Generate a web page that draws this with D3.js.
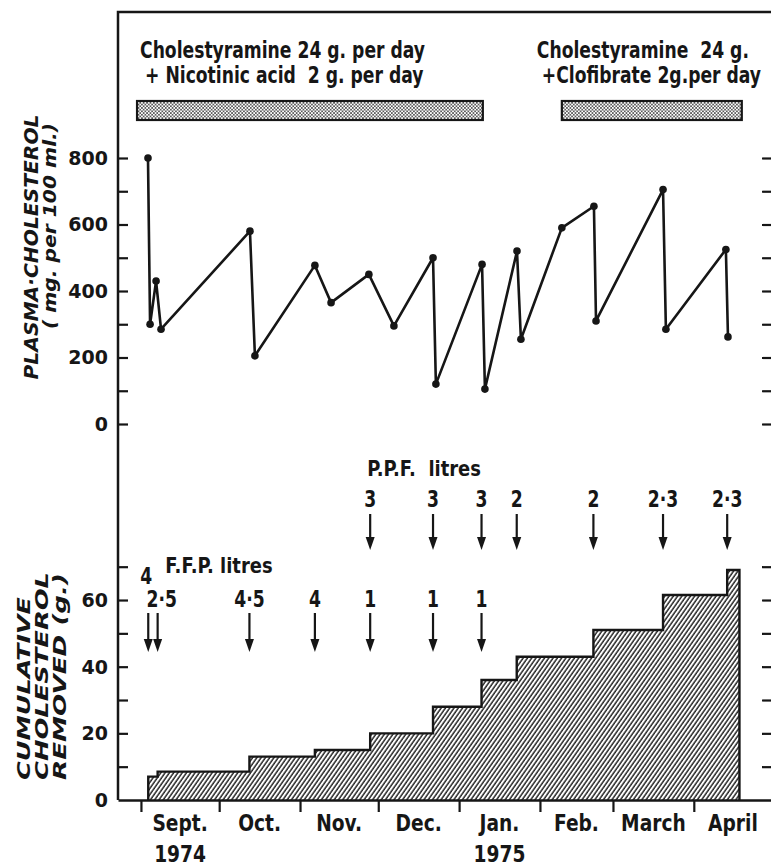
<!DOCTYPE html>
<meta charset="utf-8">
<style>
  body { margin: 0; background: #fff; }
  svg text { fill: #161616; }
  .lbl { font-family: 'DejaVu Sans Condensed', 'DejaVu Sans', sans-serif; font-weight: bold; }
  .num { font-family: 'DejaVu Sans', sans-serif; font-weight: bold; }
  .ttl { font-family: 'DejaVu Sans', sans-serif; font-weight: bold; font-style: italic; }
</style>
<body>
<script src="https://cdn.jsdelivr.net/npm/d3@7"></script>
<script>
// all days are counted from 1 Sept 1974
var measureDay = [2.7, 3.5, 5.8, 7.7, 41.8, 43.7, 66.7, 72.9, 87.4, 97.0, 112.0, 113.1,
                  130.8, 131.9, 144.2, 145.7, 161.4, 173.7, 174.5, 200.2, 201.3, 224.3, 225.1];
var plasmaChol = [800, 300, 430, 285, 580, 205, 477, 365, 450, 295, 500, 120,
                  480, 105, 520, 255, 590, 655, 310, 705, 285, 525, 262];

var stepDay = [2.8, 6.4, 41.6, 66.7, 87.9, 112.0, 130.6, 144.1, 173.5, 200.2, 224.8];
var removedCum = [7, 8.5, 13, 15, 20, 28, 36, 43, 51, 61.5, 69];
var stepEndDay = 229.5;

var ffpDay = [2.8, 6.4, 41.6, 66.7, 87.9, 112.0, 130.6];
var ffpLitres = ["4", "2·5", "4·5", "4", "1", "1", "1"];
var ppfDay = [87.9, 112.0, 130.6, 144.1, 173.5, 200.2, 224.8];
var ppfLitres = ["3", "3", "3", "2", "2", "2·3", "2·3"];

var monthLabels = ["Sept.", "Oct.", "Nov.", "Dec.", "Jan.", "Feb.", "March", "April"];
var yearLabels = ["1974", "", "", "", "1975", "", "", ""];

var treatStart = [-1.5, 161.4];
var treatEnd = [131.1, 230.4];
var treatLine1 = ["Cholestyramine 24 g. per day", "Cholestyramine  24 g."];
var treatLine2 = ["+ Nicotinic acid  2 g. per day", "+Clofibrate 2g.per day"];

var plasmaTicks = [0, 200, 400, 600, 800];
var removedTicks = [0, 20, 40, 60];

var W = 771, H = 868;
var left = 118, frameTop = 12, base = 800;
var ink = "#161616";

var t0 = Date.UTC(1974, 8, 1);
function day(d) { return new Date(t0 + d * 864e5); }

var x = d3.scaleUtc()
    .domain([day(-8.8), day(241.6)])
    .range([left, W]);
var yUp = d3.scaleLinear().domain([0, 800]).range([424, 158]);
var yLo = d3.scaleLinear().domain([0, 70]).range([base, base - 70 * 3.333]);

var svg = d3.select("body").append("svg")
    .attr("width", W)
    .attr("height", H);

var defs = svg.append("defs");
var hatch = defs.append("pattern")
    .attr("id", "hatch")
    .attr("patternUnits", "userSpaceOnUse")
    .attr("width", 3.5).attr("height", 10)
    .attr("patternTransform", "rotate(35)");
hatch.append("line")
    .attr("x1", 1).attr("y1", 0).attr("x2", 1).attr("y2", 10)
    .attr("stroke", ink).attr("stroke-width", 1.4);

var dots = defs.append("pattern")
    .attr("id", "dots")
    .attr("patternUnits", "userSpaceOnUse")
    .attr("width", 3.4).attr("height", 3.4);
dots.append("rect").attr("width", 3.4).attr("height", 3.4).attr("fill", "#fff");
dots.append("circle").attr("cx", 0.85).attr("cy", 0.85).attr("r", 0.85).attr("fill", "#222");
dots.append("circle").attr("cx", 2.55).attr("cy", 2.55).attr("r", 0.85).attr("fill", "#222");

// narrow lettering: condensed bold squeezed a little more
function ctext(tx, ty, str, size, anchor, sx) {
    return svg.append("text").attr("class", "lbl")
        .attr("transform", "translate(" + tx + "," + ty + ") scale(" + (sx || 0.83) + ",1)")
        .attr("text-anchor", anchor || "start")
        .style("font-size", size + "px")
        .style("white-space", "pre")
        .text(str);
}

// frame: left axis line and top line
svg.append("path")
    .attr("d", "M" + W + "," + frameTop + "H" + left + "V" + base)
    .attr("fill", "none").attr("stroke", ink).attr("stroke-width", 2.5);

// treatment bars and text
treatStart.forEach(function(s, i) {
    var x0 = x(day(s)), x1 = x(day(treatEnd[i]));
    svg.append("rect")
        .attr("x", x0).attr("y", 101)
        .attr("width", x1 - x0).attr("height", 19)
        .attr("fill", "url(#dots)")
        .attr("stroke", ink).attr("stroke-width", 2.2);
    var tx = i == 0 ? x0 + 3 : x0 - 25;
    ctext(tx, 58, treatLine1[i], 23);
    ctext(tx + 5, 83, treatLine2[i], 23);
});

// y ticks, pointing inwards from the left axis
svg.append("g")
    .attr("transform", "translate(" + left + ",0)")
    .call(d3.axisRight(yUp).tickValues(d3.range(0, 801, 100)).tickSize(10).tickFormat(""))
    .call(function(g) { g.select(".domain").remove(); });
svg.append("g")
    .attr("transform", "translate(" + left + ",0)")
    .call(d3.axisRight(yLo).tickValues(d3.range(10, 71, 10)).tickSize(10).tickFormat(""))
    .call(function(g) { g.select(".domain").remove(); });
// short ticks along the right edge
svg.append("g")
    .attr("transform", "translate(" + W + ",0)")
    .call(d3.axisLeft(yUp).tickValues(d3.range(0, 801, 100)).tickSize(9).tickFormat(""))
    .call(function(g) { g.select(".domain").remove(); });
svg.append("g")
    .attr("transform", "translate(" + W + ",0)")
    .call(d3.axisLeft(yLo).tickValues(d3.range(10, 71, 10)).tickSize(9).tickFormat(""))
    .call(function(g) { g.select(".domain").remove(); });
svg.selectAll(".tick line").attr("stroke", ink).attr("stroke-width", 2.2);

svg.selectAll(".pl").data(plasmaTicks).enter().append("text")
    .attr("class", "num")
    .attr("x", left - 10).attr("y", function(d) { return yUp(d); })
    .attr("dy", "0.36em")
    .attr("text-anchor", "end")
    .style("font-size", "19px")
    .text(function(d) { return d; });
svg.selectAll(".rl").data(removedTicks).enter().append("text")
    .attr("class", "num")
    .attr("x", left - 10).attr("y", function(d) { return yLo(d); })
    .attr("dy", "0.36em")
    .attr("text-anchor", "end")
    .style("font-size", "19px")
    .text(function(d) { return d; });

// axis titles
function vtext(str, cx, cy, size, len, anchor) {
    svg.append("text").attr("class", "ttl")
        .attr("transform", "translate(" + cx + "," + cy + ") rotate(-90)")
        .attr("text-anchor", anchor)
        .attr("dy", "0.36em")
        .attr("textLength", len).attr("lengthAdjust", "spacingAndGlyphs")
        .style("font-size", size + "px")
        .style("white-space", "pre")
        .text(str);
}
vtext("PLASMA·CHOLESTEROL", 31, 247, 19, 265, "middle");
vtext("( mg. per 100 ml.)", 50, 226, 17, 206, "middle");
vtext("CUMULATIVE", 24, 780, 18, 183, "start");
vtext("CHOLESTEROL", 42, 780, 18, 208, "start");
vtext("REMOVED (g.)", 60, 780, 18, 207, "start");

// bottom time axis
var monthStarts = d3.utcMonth.range(day(0), day(242));
svg.append("g")
    .attr("transform", "translate(0," + base + ")")
    .call(d3.axisBottom(x).tickValues(monthStarts).tickSize(12).tickFormat("").tickSizeOuter(0))
    .call(function(g) {
        g.select(".domain").attr("stroke", ink).attr("stroke-width", 2.5);
        g.selectAll(".tick line").attr("stroke", ink).attr("stroke-width", 2.2);
    });
monthLabels.forEach(function(m, i) {
    var a = monthStarts[i], b = d3.utcMonth.offset(a, 1);
    var cx = (x(a) + x(b)) / 2;
    ctext(cx, 831, m, 23, "middle", 0.9);
    if (yearLabels[i]) ctext(cx, 862, yearLabels[i], 23, "middle", 0.9);
});

// cumulative cholesterol removed: hatched step area
var steps = stepDay.map(function(d, i) { return {d: d, v: removedCum[i]}; });
steps.push({d: stepEndDay, v: removedCum[removedCum.length - 1]});
var area = d3.area()
    .curve(d3.curveStepAfter)
    .x(function(p) { return x(day(p.d)); })
    .y0(yLo(0))
    .y1(function(p) { return yLo(p.v); });
svg.append("path")
    .datum(steps)
    .attr("d", area)
    .attr("fill", "url(#hatch)");
var outline = d3.line()
    .curve(d3.curveStepAfter)
    .x(function(p) { return x(day(p.d)); })
    .y(function(p) { return yLo(p.v); });
var pts = [{d: stepDay[0], v: 0}].concat(steps).concat([{d: stepEndDay, v: 0}]);
svg.append("path")
    .datum(pts)
    .attr("d", outline)
    .attr("fill", "none")
    .attr("stroke", ink).attr("stroke-width", 2.4);

// plasma cholesterol line
var plasma = measureDay.map(function(d, i) { return {d: d, v: plasmaChol[i]}; });
var line = d3.line()
    .x(function(p) { return x(day(p.d)); })
    .y(function(p) { return yUp(p.v); });
svg.append("path")
    .datum(plasma)
    .attr("d", line)
    .attr("fill", "none")
    .attr("stroke", ink).attr("stroke-width", 2.6)
    .attr("stroke-linejoin", "round");
svg.selectAll(".pt").data(plasma).enter().append("circle")
    .attr("cx", function(p) { return x(day(p.d)); })
    .attr("cy", function(p) { return yUp(p.v); })
    .attr("r", 3.8)
    .attr("fill", ink);

// arrows
function arrow(cx, y0, y1) {
    svg.append("line")
        .attr("x1", cx).attr("x2", cx).attr("y1", y0).attr("y2", y1 - 8)
        .attr("stroke", ink).attr("stroke-width", 2.2);
    svg.append("path")
        .attr("d", "M" + (cx - 4.5) + "," + (y1 - 13) + "L" + (cx + 4.5) + "," + (y1 - 13) + "L" + cx + "," + y1 + "Z")
        .attr("fill", ink);
}
ppfDay.forEach(function(d, i) {
    var cx = x(day(d));
    arrow(cx, 514, 550);
    ctext(cx, 507, ppfLitres[i], 23, "middle");
});
ctext(x(day(87.9)) - 3, 476, "P.P.F.  litres", 21, "start", 0.95);

ffpDay.forEach(function(d, i) {
    var cx = x(day(d));
    arrow(cx, 613, 652);
    var next = ffpDay[i + 1];
    var crowded = next !== undefined && x(day(next)) - cx < 20;
    var prevClose = i > 0 && cx - x(day(ffpDay[i - 1])) < 20;
    ctext(crowded ? cx - 2 : (prevClose ? cx + 4 : cx), crowded ? 584 : 607,
        ffpLitres[i], 23, "middle");
});
ctext(x(day(ffpDay[0])) + 17, 573, "F.F.P. litres", 21, "start", 0.95);
</script>
</body>
